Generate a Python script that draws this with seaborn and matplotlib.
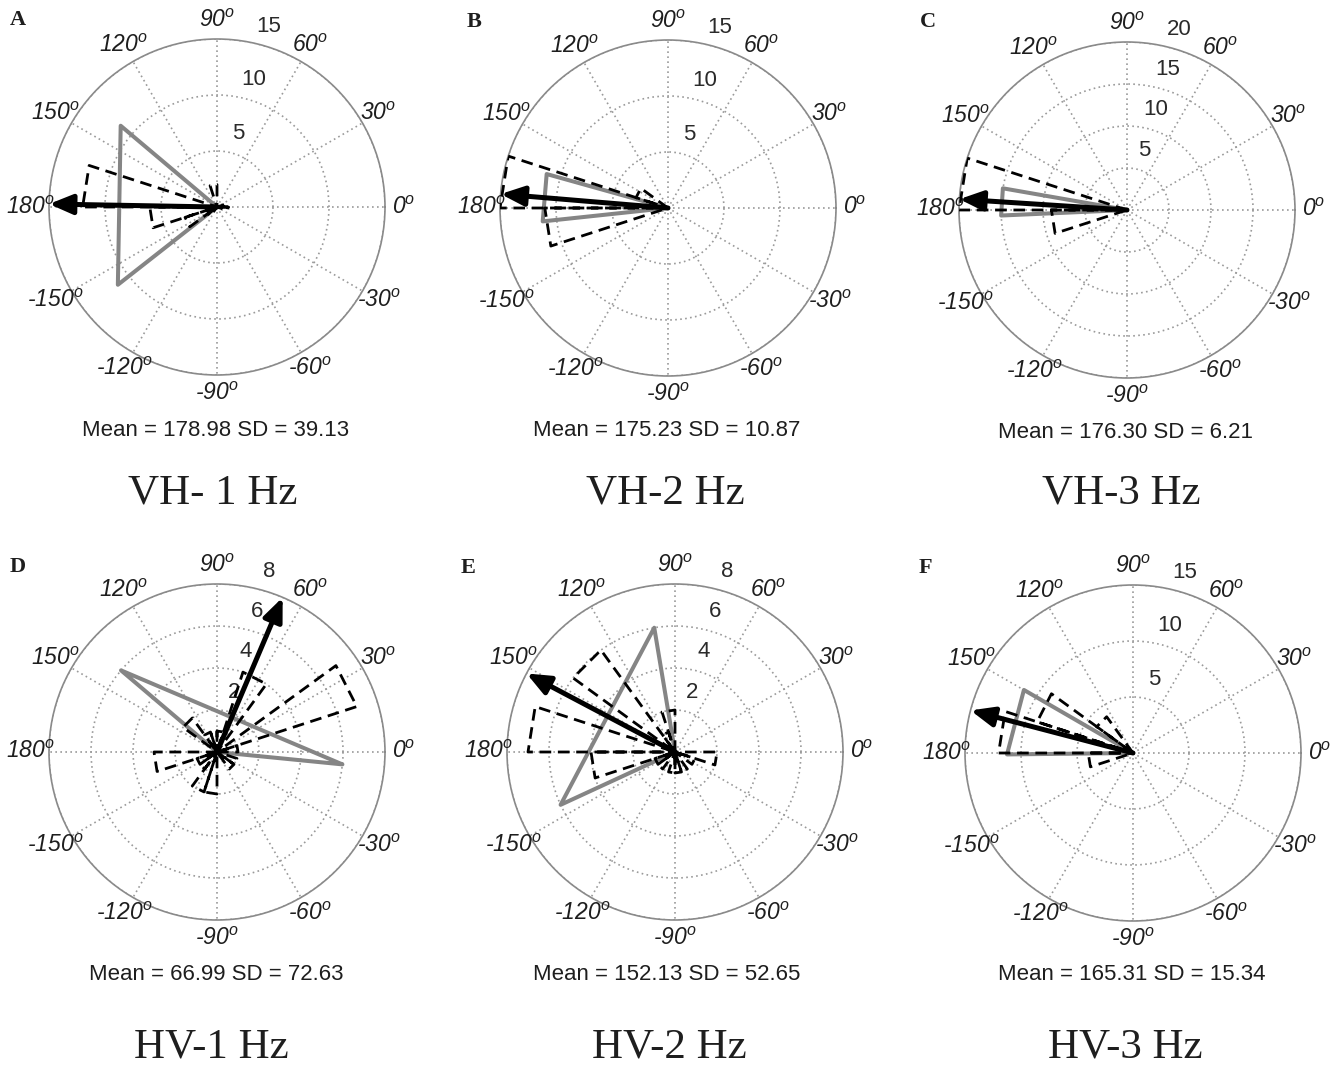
import numpy as np
import pandas as pd
import matplotlib
matplotlib.use("Agg")
import matplotlib.pyplot as plt
import seaborn as sns

# ---------------- data ----------------
panel_letters = ["A", "B", "C", "D", "E", "F"]
titles = ["VH- 1 Hz", "VH-2 Hz", "VH-3 Hz", "HV-1 Hz", "HV-2 Hz", "HV-3 Hz"]
means = [178.98, 175.23, 176.30, 66.99, 152.13, 165.31]
sds = [39.13, 10.87, 6.21, 72.63, 52.65, 15.34]
r_max = [15, 15, 20, 8, 8, 15]
r_ticks = [[5, 10, 15], [5, 10, 15], [5, 10, 15, 20], [2, 4, 6, 8], [2, 4, 6, 8], [5, 10, 15]]
sector_r = [11.25, 11.25, 15, 6, 6, 11.25]
bin_edges_deg = list(range(0, 361, 18))  # 20 rose bins
counts_A = [1, 0, 0, 0, 0, 2, 0, 0, 0, 12, 6, 3, 1, 0, 0, 0, 0, 0, 0, 1]
counts_B = [0, 0, 0, 0, 0, 0, 0, 0, 3, 15, 11, 0, 0, 0, 0, 0, 0, 0, 0, 0]
counts_C = [0, 0, 0, 0, 0, 0, 0, 0, 0, 20, 9, 0, 0, 0, 0, 0, 0, 0, 0, 0]
counts_D = [1, 7, 0, 4, 1, 1, 1, 2, 0, 0, 3, 1, 1, 2, 2, 0, 0, 1, 1, 0]
counts_E = [0, 0, 0, 0, 0, 2, 1, 6, 0, 7, 4, 1, 1, 0, 1, 1, 1, 0, 1, 2]
counts_F = [0, 0, 0, 0, 0, 0, 0, 4, 9, 12, 4, 0, 0, 0, 0, 0, 0, 0, 0, 0]
all_counts = [counts_A, counts_B, counts_C, counts_D, counts_E, counts_F]
angle_ticks = [0, 30, 60, 90, 120, 150, 180, 210, 240, 270, 300, 330]
angle_labels = ["0", "30", "60", "90", "120", "150", "180", "-150", "-120", "-90", "-60", "-30"]

# ---------------- layout (pixels) ----------------
W, H = 1340, 1068
R_PX = 168
centers = [(217, 207), (668, 208), (1127, 210), (217, 752), (675, 752), (1133, 753)]
letter_pos = [(18, 20), (474, 22), (928, 22), (18, 567), (468, 568), (925, 568)]
mean_pos = [(216, 431), (667, 431), (1125, 432), (216, 974), (667, 974), (1132, 974)]
title_pos = [(213, 493), (665, 493), (1121, 493), (211, 1047), (669, 1047), (1125, 1047)]

sns.set_theme(style="white")
plt.rcParams["font.family"] = ["Liberation Sans", "DejaVu Sans"]
plt.rcParams["mathtext.fontset"] = "custom"
plt.rcParams["mathtext.rm"] = "Liberation Sans:italic"
plt.rcParams["mathtext.it"] = "Liberation Sans:italic"
plt.rcParams["mathtext.sf"] = "Liberation Sans:italic"

fig = plt.figure(figsize=(W / 100, H / 100), dpi=100)
fig.patch.set_facecolor("white")

TXT = "#1e1e1e"

for i in range(6):
    cx, cy = centers[i]
    ax = fig.add_axes([(cx - R_PX) / W, 1 - (cy + R_PX) / H, 2 * R_PX / W, 2 * R_PX / H],
                      projection="polar")
    rmax = r_max[i]

    # rose (MATLAB style): 0 -> (e_i, c) -> (e_i+1, c) -> 0
    th, rr = [], []
    for k, c in enumerate(all_counts[i]):
        e0, e1 = bin_edges_deg[k], bin_edges_deg[k + 1]
        th += [e0, e0, e1, e1]
        rr += [0, c, c, 0]
    rose = pd.DataFrame({"theta": np.deg2rad(th), "r": rr})

    lo, hi = means[i] - sds[i], means[i] + sds[i]
    sector = pd.DataFrame({"theta": np.deg2rad([0, lo, hi, 0]),
                           "r": [0, sector_r[i], sector_r[i], 0]})

    sns.lineplot(data=sector, x="theta", y="r", ax=ax, sort=False, estimator=None,
                 color="#858585", linewidth=2.9, zorder=3)
    sns.lineplot(data=rose, x="theta", y="r", ax=ax, sort=False, estimator=None,
                 color="black", linewidth=2.0, linestyle=(0, (4.2, 2.4)), zorder=4)

    ax.annotate("", xy=(np.deg2rad(means[i]), rmax), xytext=(0, 0),
                arrowprops=dict(arrowstyle="-|>,head_length=1.0,head_width=0.42",
                                mutation_scale=14, lw=3.6, color="black",
                                shrinkA=0, shrinkB=0), zorder=5)

    ax.set_ylim(0, rmax)
    ax.set_thetagrids(angle_ticks, labels=[""] * len(angle_ticks))
    ax.set_rgrids(r_ticks[i], labels=[""] * len(r_ticks[i]))
    ax.grid(True, color="#9a9a9a", linestyle=(0, (1, 2)), linewidth=1.2)
    ax.spines["polar"].set_color("#8a8a8a")
    ax.spines["polar"].set_linewidth(1.2)
    ax.set_xlabel("")
    ax.set_ylabel("")
    ax.tick_params(pad=0)

    for a, lab in zip(angle_ticks, angle_labels):
        ax.text(np.deg2rad(a), 1.11 * rmax, lab + r"$^{o}$", ha="center", va="center",
                fontsize=16.5, fontstyle="italic", color=TXT, clip_on=False)
    for t in r_ticks[i]:
        ax.text(np.deg2rad(74), t + 0.12 * rmax, str(t), ha="center", va="center",
                fontsize=16, color="#2a2a2a", clip_on=False, zorder=2)

    lx, ly = letter_pos[i]
    fig.text(lx / W, 1 - ly / H, panel_letters[i], ha="center", va="center",
             fontsize=16, fontweight="bold", family="Liberation Serif", color=TXT)
    mx, my = mean_pos[i]
    fig.text(mx / W, 1 - my / H, f"Mean = {means[i]:.2f} SD = {sds[i]:.2f}",
             ha="center", va="center", fontsize=16, color=TXT)
    tx, ty = title_pos[i]
    fig.text(tx / W, 1 - ty / H, titles[i], ha="center", va="center",
             fontsize=31, family="Liberation Serif", color=TXT)

fig.savefig("out.png", dpi=100, facecolor="white")
